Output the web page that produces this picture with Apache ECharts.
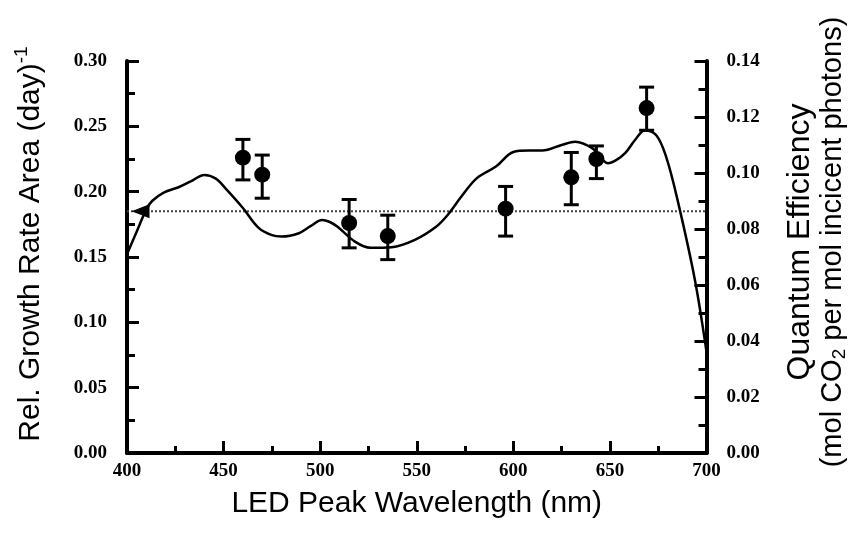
<!DOCTYPE html>
<html>
<head>
<meta charset="utf-8">
<script src="https://cdn.jsdelivr.net/npm/echarts@6/dist/echarts.min.js"></script>
<style>
  html, body { margin: 0; padding: 0; background: #fff; }
  #main { width: 857px; height: 534px; }
</style>
</head>
<body>
<div id="main"></div>
<script>
// measured points (left axis) with error bar ends
var ledWl = [460, 470, 515, 535, 596, 630, 643, 669];
var growth = [0.226, 0.213, 0.176, 0.166, 0.187, 0.211, 0.225, 0.264];
var growthLo = [0.209, 0.195, 0.157, 0.148, 0.166, 0.190, 0.210, 0.247];
var growthHi = [0.240, 0.228, 0.194, 0.182, 0.204, 0.230, 0.235, 0.280];

// quantum efficiency curve (right axis)
var curveWl = [400, 405, 410, 413, 419, 427, 433, 440, 446, 451, 460, 468, 475, 480, 489, 495, 501, 505, 509,
    518, 526, 537, 549, 560, 566, 573, 581, 591, 600, 608, 615, 625, 632, 641, 649, 653, 658, 663, 668,
    674, 679, 685, 694, 700];
var curveQE = [0.071, 0.079, 0.087, 0.090, 0.093, 0.095, 0.097, 0.0993, 0.098, 0.0945, 0.0875, 0.0805, 0.0778,
    0.0773, 0.0785, 0.081, 0.0832, 0.0825, 0.0808, 0.0755, 0.0733, 0.0735, 0.0761, 0.0808, 0.085, 0.0915,
    0.0981, 0.1023, 0.1075, 0.108, 0.108, 0.110, 0.1112, 0.1088, 0.1035, 0.1045, 0.1072, 0.1118, 0.1152,
    0.1135, 0.106, 0.0904, 0.0618, 0.0361];

// mean growth rate line and its arrow
var meanGrowth = 0.185;
var meanRange = [400, 700];
var arrowWl = 407;

var chart = echarts.init(document.getElementById('main'));

var tickFont = { fontFamily: 'Liberation Serif', fontWeight: 'bold', fontSize: 19, color: '#000' };
var axisLine = { show: true, onZero: false, lineStyle: { color: '#000', width: 4 } };

function fmt(v) { return v.toFixed(2); }

var option = {
    backgroundColor: '#fff',
    animation: false,
    grid: { left: 127, right: 144, top: 61, bottom: 81 },
    xAxis: {
        type: 'value',
        min: 400, max: 700, interval: 50,
        name: 'LED Peak Wavelength (nm)',
        nameLocation: 'middle',
        nameGap: 36,
        nameTextStyle: { fontFamily: 'Liberation Sans', fontSize: 30, color: '#000' },
        axisLine: axisLine,
        axisTick: { show: true, inside: true, length: 12, lineStyle: { color: '#000', width: 3 } },
        minorTick: { show: true, splitNumber: 2, length: 7, lineStyle: { color: '#000', width: 3 } },
        axisLabel: Object.assign({ margin: 9 }, tickFont),
        splitLine: { show: false }
    },
    yAxis: [{
        type: 'value',
        min: 0, max: 0.30, interval: 0.05,
        name: '{t|Rel. Growth Rate Area (day)}{sup|-1}',
        nameLocation: 'middle',
        nameGap: 78,
        nameRotate: 90,
        nameTextStyle: {
            color: '#000',
            padding: [0, 0, 0, 26],
            rich: {
                t: { fontFamily: 'Liberation Sans', fontSize: 30, color: '#000' },
                sup: { fontFamily: 'Liberation Sans', fontSize: 19, color: '#000', padding: [0, 0, 18, 0] }
            }
        },
        axisLine: axisLine,
        axisTick: { show: true, inside: true, length: 12, lineStyle: { color: '#000', width: 3 } },
        minorTick: { show: true, splitNumber: 2, length: 8, lineStyle: { color: '#000', width: 3 } },
        axisLabel: Object.assign({ margin: 20, formatter: fmt }, tickFont),
        splitLine: { show: false }
    }, {
        type: 'value',
        position: 'right',
        min: 0, max: 0.14, interval: 0.02,
        name: '{q|Quantum Efficiency}\n{t|(mol CO}{sub|2}{t| per mol incicent photons)}',
        nameLocation: 'middle',
        nameGap: 77,
        nameRotate: 90,
        nameTextStyle: {
            color: '#000',
            padding: [0, 0, 0, 30],
            rich: {
                q: { fontFamily: 'Liberation Sans', fontSize: 32, color: '#000', lineHeight: 33 },
                t: { fontFamily: 'Liberation Sans', fontSize: 29, color: '#000', lineHeight: 33 },
                sub: { fontFamily: 'Liberation Sans', fontSize: 19, color: '#000', lineHeight: 33, padding: [13, 0, 0, 0] }
            }
        },
        axisLine: axisLine,
        axisTick: { show: true, inside: true, length: 12, lineStyle: { color: '#000', width: 3 } },
        minorTick: { show: true, splitNumber: 2, length: 8, lineStyle: { color: '#000', width: 3 } },
        axisLabel: Object.assign({ margin: 20, formatter: fmt }, tickFont),
        splitLine: { show: false }
    }],
    series: [{
        name: 'mean',
        type: 'line',
        yAxisIndex: 0,
        data: meanRange.map(function (w) { return [w, meanGrowth]; }),
        symbol: 'none',
        lineStyle: { color: '#444', width: 2, type: 'dotted' },
        z: 1
    }, {
        name: 'arrow',
        type: 'scatter',
        yAxisIndex: 0,
        data: [[arrowWl, meanGrowth]],
        symbol: 'triangle',
        symbolSize: [14, 18],
        symbolRotate: 90,
        itemStyle: { color: '#000', opacity: 1 },
        z: 4
    }, {
        name: 'Quantum Efficiency',
        type: 'line',
        yAxisIndex: 1,
        data: curveWl.map(function (w, i) { return [w, curveQE[i]]; }),
        smooth: 0.35,
        symbol: 'none',
        lineStyle: { color: '#000', width: 2.5 },
        z: 3
    }, {
        name: 'error',
        type: 'custom',
        yAxisIndex: 0,
        data: ledWl.map(function (w, i) { return [w, growthLo[i], growthHi[i]]; }),
        encode: { x: 0, y: [1, 2] },
        renderItem: function (params, api) {
            var lo = api.coord([api.value(0), api.value(1)]);
            var hi = api.coord([api.value(0), api.value(2)]);
            var hw = 7.5;
            var st = { stroke: '#000', lineWidth: 3 };
            return {
                type: 'group',
                children: [
                    { type: 'line', shape: { x1: lo[0], y1: lo[1], x2: hi[0], y2: hi[1] }, style: st },
                    { type: 'line', shape: { x1: lo[0] - hw, y1: lo[1], x2: lo[0] + hw, y2: lo[1] }, style: st },
                    { type: 'line', shape: { x1: hi[0] - hw, y1: hi[1], x2: hi[0] + hw, y2: hi[1] }, style: st }
                ]
            };
        },
        z: 5
    }, {
        name: 'Growth',
        type: 'scatter',
        yAxisIndex: 0,
        data: ledWl.map(function (w, i) { return [w, growth[i]]; }),
        symbol: 'circle',
        symbolSize: 16,
        itemStyle: { color: '#000', opacity: 1 },
        z: 6
    }]
};

chart.setOption(option);
</script>
</body>
</html>
